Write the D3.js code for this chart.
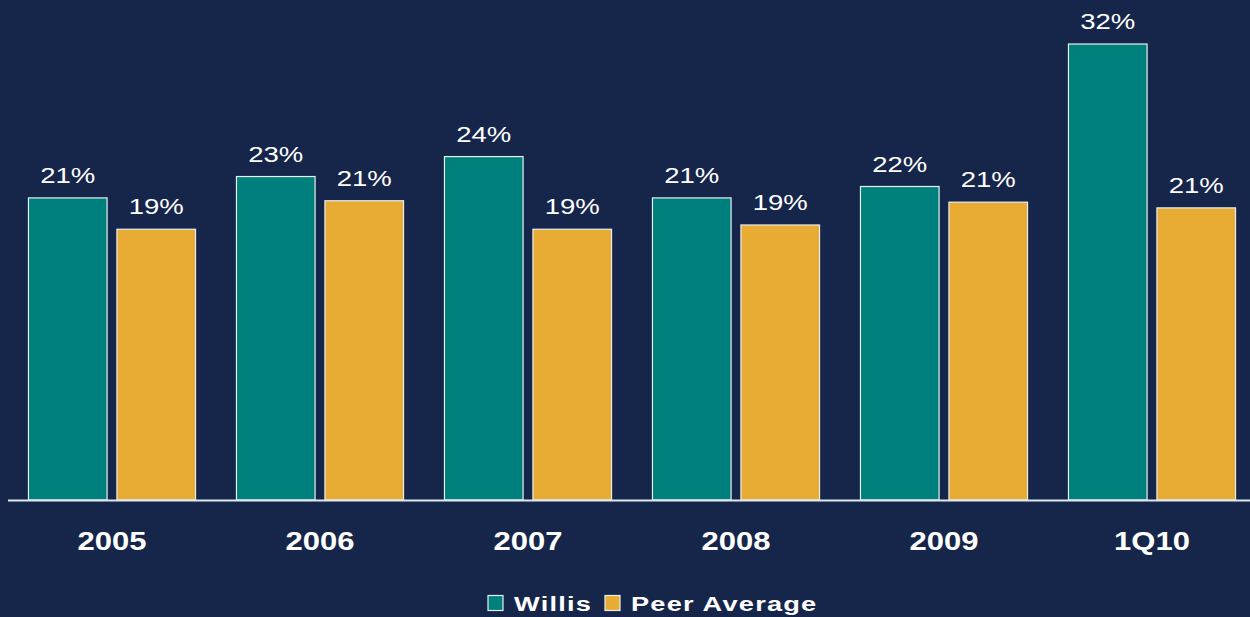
<!DOCTYPE html>
<html>
<head>
<meta charset="utf-8">
<script src="https://cdn.jsdelivr.net/npm/d3@7"></script>
<style>
  html, body { margin: 0; padding: 0; background: #16264a; }
  svg { display: block; }
</style>
</head>
<body>
<script>
// values (percent)
const categories = ["2005", "2006", "2007", "2008", "2009", "1Q10"];
const willis = [21.2, 22.7, 24.1, 21.2, 22.0, 32.0];
const peerAverage = [19.0, 21.0, 19.0, 19.3, 20.9, 20.5];
const seriesNames = ["Willis", "Peer Average"];
const seriesColors = ["#00807c", "#e8ab33"];

const width = 1250, height = 617;
const baseY = 500;
const font = "'Liberation Sans', Arial, sans-serif";

const rows = categories.map((c, i) => ({ cat: c, values: [willis[i], peerAverage[i]] }));

const svg = d3.select("body").append("svg")
    .attr("width", width)
    .attr("height", height)
    .attr("font-family", font);

svg.append("rect").attr("width", width).attr("height", height).attr("fill", "#16264a");

const x0 = d3.scaleBand()
    .domain(categories)
    .range([8, 1256])
    .paddingInner(0.192)
    .paddingOuter(0.096);

const x1 = d3.scaleBand()
    .domain(seriesNames)
    .range([0, x0.bandwidth()])
    .paddingInner(0.1);

const y = d3.scaleLinear()
    .domain([0, 32])
    .range([baseY, 44]);

const group = svg.append("g")
  .selectAll("g")
  .data(rows)
  .join("g")
    .attr("transform", d => `translate(${x0(d.cat)},0)`);

const bar = group.selectAll("g")
  .data(d => d.values.map((v, i) => ({ name: seriesNames[i], v, i })))
  .join("g");

bar.append("rect")
    .attr("x", d => x1(d.name) + 0.5)
    .attr("y", d => y(d.v))
    .attr("width", x1.bandwidth() - 1)
    .attr("height", d => baseY - y(d.v))
    .attr("fill", d => seriesColors[d.i])
    .attr("stroke", "#e8eef2")
    .attr("stroke-width", 1.2);

// value labels, the original type is set wide so stretch it a bit
bar.append("text")
    .attr("transform", d => `translate(${x1(d.name) + x1.bandwidth() / 2},${y(d.v) - 15}) scale(1.25,1)`)
    .attr("text-anchor", "middle")
    .attr("fill", "#ffffff")
    .attr("font-size", 22)
    .text(d => Math.round(d.v) + "%");

// baseline
svg.append("line")
    .attr("x1", 8).attr("x2", width)
    .attr("y1", baseY + 0.5).attr("y2", baseY + 0.5)
    .attr("stroke", "#dfe8ee")
    .attr("stroke-width", 2);

// category axis
const xAxis = svg.append("g")
    .attr("transform", `translate(0,${baseY})`)
    .call(d3.axisBottom(x0).tickSize(0).tickPadding(32));
xAxis.select(".domain").remove();
xAxis.selectAll("text")
    .attr("fill", "#ffffff")
    .attr("font-size", 25)
    .attr("font-weight", "bold")
    .attr("font-family", font)
    .attr("transform", "scale(1.24,1)");

// legend
const legend = svg.append("g").attr("transform", "translate(488,603)");
const items = [{ name: "Willis", x: 0 }, { name: "Peer Average", x: 117 }];
items.forEach((it, i) => {
  const g = legend.append("g").attr("transform", `translate(${it.x},0)`);
  g.append("rect")
      .attr("x", 0).attr("y", -7.5)
      .attr("width", 15).attr("height", 15)
      .attr("fill", seriesColors[i])
      .attr("stroke", "#e8eef2")
      .attr("stroke-width", 1.2);
  g.append("text")
      .attr("transform", "translate(26,7.5) scale(1.36,1)")
      .attr("fill", "#ffffff")
      .attr("font-size", 20)
      .attr("font-weight", "bold")
      .attr("letter-spacing", 0.9)
      .text(it.name);
});
</script>
</body>
</html>
